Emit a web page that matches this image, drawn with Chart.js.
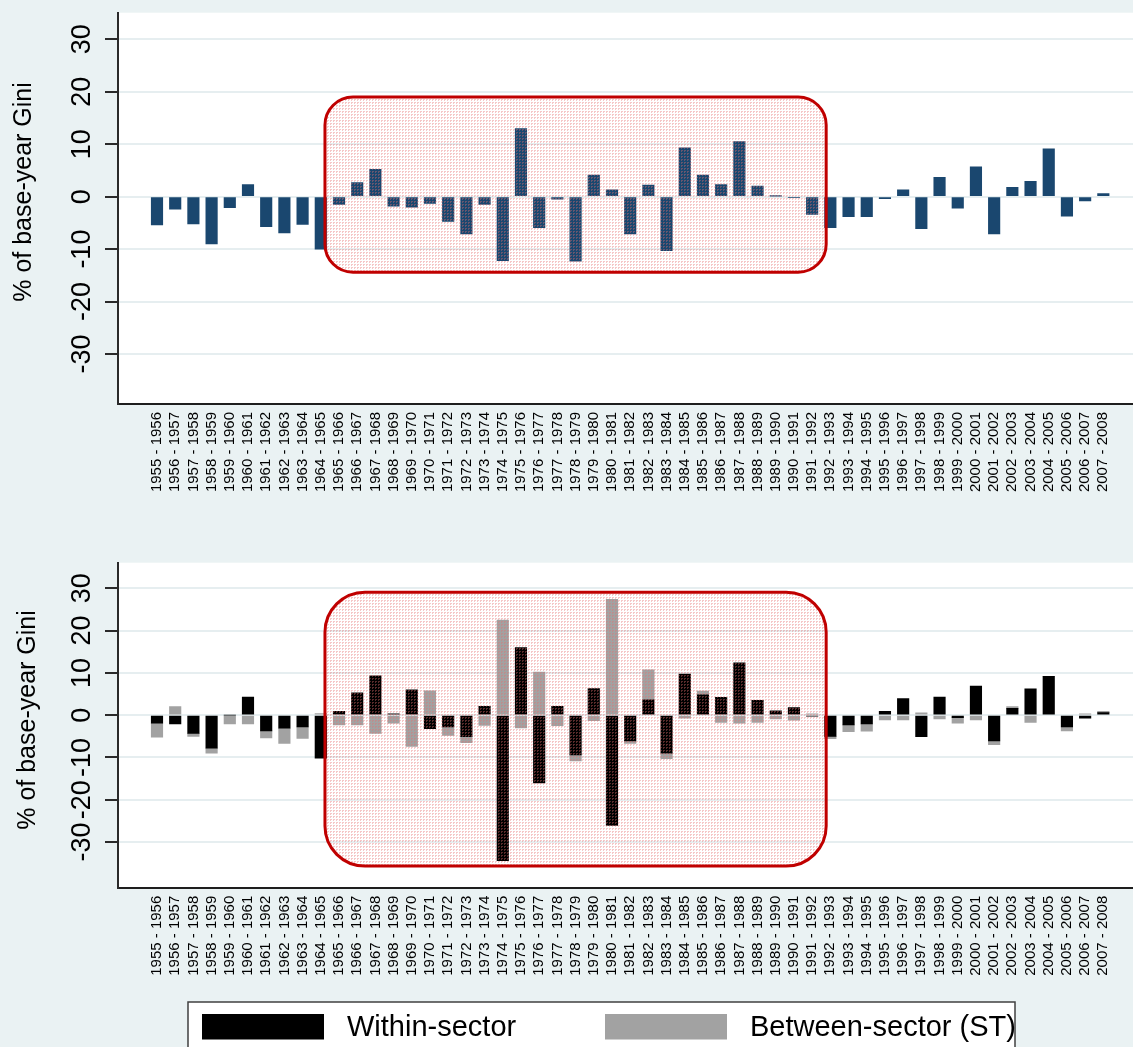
<!DOCTYPE html>
<html>
<head>
<meta charset="utf-8">
<script src="https://cdn.jsdelivr.net/npm/chart.js@4/dist/chart.umd.min.js"></script>
<style>
  html, body { margin: 0; padding: 0; background: #EAF2F3; overflow: hidden; }
  #wrap { position: relative; width: 1133px; height: 1047px; }
  canvas { position: absolute; left: 0; }
  #giniTop { top: 0; }
  #giniBottom { top: 540px; }
</style>
</head>
<body>
<div id="wrap">
  <canvas id="giniTop" width="1133" height="540"></canvas>
  <canvas id="giniBottom" width="1133" height="507"></canvas>
</div>
<script>
// Year-on-year periods shown on the category axis
const periods = [
  '1955 - 1956', '1956 - 1957', '1957 - 1958', '1958 - 1959', '1959 - 1960',
  '1960 - 1961', '1961 - 1962', '1962 - 1963', '1963 - 1964', '1964 - 1965',
  '1965 - 1966', '1966 - 1967', '1967 - 1968', '1968 - 1969', '1969 - 1970',
  '1970 - 1971', '1971 - 1972', '1972 - 1973', '1973 - 1974', '1974 - 1975',
  '1975 - 1976', '1976 - 1977', '1977 - 1978', '1978 - 1979', '1979 - 1980',
  '1980 - 1981', '1981 - 1982', '1982 - 1983', '1983 - 1984', '1984 - 1985',
  '1985 - 1986', '1986 - 1987', '1987 - 1988', '1988 - 1989', '1989 - 1990',
  '1990 - 1991', '1991 - 1992', '1992 - 1993', '1993 - 1994', '1994 - 1995',
  '1995 - 1996', '1996 - 1997', '1997 - 1998', '1998 - 1999', '1999 - 2000',
  '2000 - 2001', '2001 - 2002', '2002 - 2003', '2003 - 2004', '2004 - 2005',
  '2005 - 2006', '2006 - 2007', '2007 - 2008'
];

// Change in Gini, % of base-year Gini
const giniChange = [
  -5.4, -2.4, -5.2, -9.0, -2.1, 2.3, -5.7, -6.9, -5.3, -10.0,
  -1.5, 2.7, 5.2, -1.8, -2.0, -1.3, -4.7, -7.1, -1.5, -12.2,
  13.0, -5.9, -0.5, -12.3, 4.1, 1.3, -7.1, 2.2, -10.3, 9.3,
  4.1, 2.3, 10.5, 2.0, 0.1, -0.2, -3.4, -5.9, -3.8, -3.8,
  -0.4, 1.3, -6.1, 3.7, -2.2, 5.7, -7.1, 1.8, 2.9, 9.1,
  -3.7, -0.8, 0.6
];

// Decomposition: within-sector and between-sector (ST) components
const withinSector = [
  -1.9, -2.1, -4.3, -7.8, 0.0, 4.3, -3.7, -3.1, -2.8, -10.2,
  0.9, 5.3, 9.3, 0.3, 6.0, -3.2, -2.8, -5.1, 2.1, -34.4,
  16.0, -16.0, 2.1, -9.4, 6.3, -26.1, -6.1, 3.6, -9.0, 9.7,
  4.8, 4.2, 12.4, 3.5, 1.0, 1.8, -0.2, -5.0, -2.3, -2.1,
  0.9, 3.9, -5.1, 4.3, -0.6, 6.9, -6.1, 1.6, 6.2, 9.2,
  -2.8, -0.7, 0.6
];
const betweenSector = [
  -3.3, 2.0, -0.7, -1.2, -2.1, -2.1, -1.7, -3.6, -2.7, 0.4,
  -2.3, -2.3, -4.3, -1.9, -7.4, 5.75, -2.0, -1.4, -2.4, 22.5,
  -3.0, 10.2, -2.5, -1.4, -1.3, 27.4, -0.6, 7.1, -1.3, -0.7,
  0.9, -1.7, -1.9, -1.7, -0.9, -1.2, 0.3, -0.55, -1.6, -1.7,
  -1.1, -1.1, 0.55, -0.9, -1.3, -1.1, -0.9, 0.4, -1.7, 0.0,
  -0.9, 0.3, 0.3
];

const yTickValues = [-30, -20, -10, 0, 10, 20, 30];
const seriesNames = ['Within-sector', 'Between-sector (ST)'];
const yAxisTitle = '% of base-year Gini';

// Highlighted period
const highlightFrom = '1965 - 1966';
const highlightTo = '1991 - 1992';

const FONT = "'Liberation Sans', Arial, Helvetica, sans-serif";
Chart.defaults.font.family = FONT;
Chart.defaults.color = '#000';

const toPoints = vals => vals.map((v, i) => ({ x: i, y: v }));

// Fine dotted pink fill used inside the highlight frame
function dotPattern() {
  const c = document.createElement('canvas');
  c.width = 3; c.height = 3;
  const g = c.getContext('2d');
  g.fillStyle = 'rgba(230, 110, 110, 0.38)';
  g.fillRect(0, 0, 2, 1);
  g.fillRect(0, 1, 1, 1);
  return g.createPattern(c, 'repeat');
}

const panelBackground = {
  id: 'panelBackground',
  beforeDraw(chart) {
    const { ctx, chartArea: a, width, height } = chart;
    ctx.save();
    ctx.fillStyle = '#EAF2F3';
    ctx.fillRect(0, 0, width, height);
    ctx.fillStyle = '#FFFFFF';
    ctx.fillRect(a.left, a.top, a.right - a.left, a.bottom - a.top);
    ctx.restore();
  }
};

const sideTitle = {
  id: 'sideTitle',
  afterDraw(chart, args, opts) {
    const ctx = chart.ctx;
    ctx.save();
    ctx.translate(opts.x, opts.y);
    ctx.rotate(-Math.PI / 2);
    ctx.font = '25px ' + FONT;
    ctx.fillStyle = '#000';
    ctx.textAlign = 'center';
    ctx.textBaseline = 'middle';
    ctx.fillText(opts.text, 0, 0);
    ctx.restore();
  }
};

const highlightBox = {
  id: 'highlightBox',
  afterDatasetsDraw(chart, args, opts) {
    const { ctx, scales: { x, y } } = chart;
    const i0 = periods.indexOf(highlightFrom);
    const i1 = periods.indexOf(highlightTo);
    const left = x.getPixelForValue(i0 - opts.pad);
    const right = x.getPixelForValue(i1 + opts.pad);
    const top = y.getPixelForValue(opts.top);
    const bottom = y.getPixelForValue(opts.bottom);
    ctx.save();
    ctx.beginPath();
    ctx.roundRect(left, top, right - left, bottom - top, opts.radius);
    ctx.fillStyle = dotPattern();
    ctx.fill();
    ctx.lineWidth = 3;
    ctx.strokeStyle = '#C00000';
    ctx.stroke();
    ctx.restore();
  }
};

const boxLegend = {
  id: 'boxLegend',
  afterDraw(chart, args, opts) {
    if (!opts.show) return;
    const ctx = chart.ctx;
    ctx.save();
    ctx.fillStyle = '#FFFFFF';
    ctx.fillRect(opts.left, opts.top, opts.right - opts.left, chart.height - opts.top + 20);
    ctx.strokeStyle = '#404040';
    ctx.lineWidth = 1.5;
    ctx.strokeRect(opts.left, opts.top, opts.right - opts.left, chart.height - opts.top + 20);
    ctx.font = opts.fontSize + 'px ' + FONT;
    ctx.textBaseline = 'middle';
    chart.data.datasets.forEach((ds, k) => {
      const sx = opts.itemX[k];
      ctx.fillStyle = ds.backgroundColor;
      ctx.fillRect(sx, opts.swatchTop, opts.swatchW, opts.swatchH);
      ctx.fillStyle = '#000';
      ctx.fillText(ds.label, sx + opts.swatchW + opts.gap, opts.swatchTop + opts.swatchH / 2 + 1);
    });
    ctx.restore();
  }
};

function axes(yMin, yMax, xAxisHeight, stacked) {
  return {
    x: {
      type: 'linear',
      offset: false,
      min: -2.143,
      max: 53.63,
      stacked: stacked,
      afterBuildTicks: s => { s.ticks = periods.map((p, i) => ({ value: i })); },
      afterFit: s => { s.height = xAxisHeight; s.paddingLeft = 0; s.paddingRight = 0; },
      grid: { display: false, drawTicks: false, offset: false },
      border: { display: true, color: '#1E1E1E', width: 2 },
      ticks: {
        autoSkip: false,
        minRotation: 90,
        maxRotation: 90,
        padding: 8,
        font: { size: 15 },
        color: '#000',
        callback: v => periods[v]
      }
    },
    y: {
      min: yMin,
      max: yMax,
      stacked: stacked,
      afterBuildTicks: s => { s.ticks = yTickValues.map(v => ({ value: v })); },
      afterFit: s => { s.width = 118; s.paddingTop = 0; s.paddingBottom = 0; },
      grid: { color: '#E6EEF0', lineWidth: 2, tickColor: '#2A2A2A', tickWidth: 2, tickLength: 13 },
      border: { display: true, color: '#2A2A2A', width: 2 },
      ticks: {
        minRotation: 90,
        maxRotation: 90,
        crossAlign: 'center',
        padding: 3,
        font: { size: 27 },
        color: '#000'
      }
    }
  };
}

new Chart(document.getElementById('giniTop'), {
  type: 'bar',
  data: {
    datasets: [{
      label: 'Change in Gini',
      data: toPoints(giniChange),
      backgroundColor: '#1A476F',
      barThickness: 11.5
    }]
  },
  options: {
    responsive: false,
    animation: false,
    layout: { padding: { top: 12.7, left: 0, right: 0, bottom: 0 } },
    scales: axes(-39.53, 35.07, 136, false),
    plugins: {
      legend: { display: false },
      tooltip: { enabled: false },
      sideTitle: { text: yAxisTitle, x: 24, y: 192 },
      highlightBox: { pad: 0.77, top: 19.0, bottom: -14.4, radius: 28 },
      boxLegend: { show: false }
    }
  },
  plugins: [panelBackground, highlightBox, sideTitle, boxLegend]
});

new Chart(document.getElementById('giniBottom'), {
  type: 'bar',
  data: {
    datasets: [
      { label: seriesNames[0], data: toPoints(withinSector), backgroundColor: '#000000', barThickness: 11.5 },
      { label: seriesNames[1], data: toPoints(betweenSector), backgroundColor: '#A2A2A2', barThickness: 11.5 }
    ]
  },
  options: {
    responsive: false,
    animation: false,
    layout: { padding: { top: 22.7, left: 0, right: 0, bottom: 0 } },
    scales: axes(-40.81, 36.06, 159.3, true),
    plugins: {
      legend: { display: false },
      tooltip: { enabled: false },
      sideTitle: { text: yAxisTitle, x: 28, y: 180 },
      highlightBox: { pad: 0.77, top: 29.1, bottom: -35.7, radius: 40 },
      boxLegend: {
        show: true, left: 188, right: 1015, top: 462,
        itemX: [202, 605], swatchTop: 474, swatchW: 122, swatchH: 25.5, gap: 23, fontSize: 29
      }
    }
  },
  plugins: [panelBackground, highlightBox, sideTitle, boxLegend]
});
</script>
</body>
</html>
